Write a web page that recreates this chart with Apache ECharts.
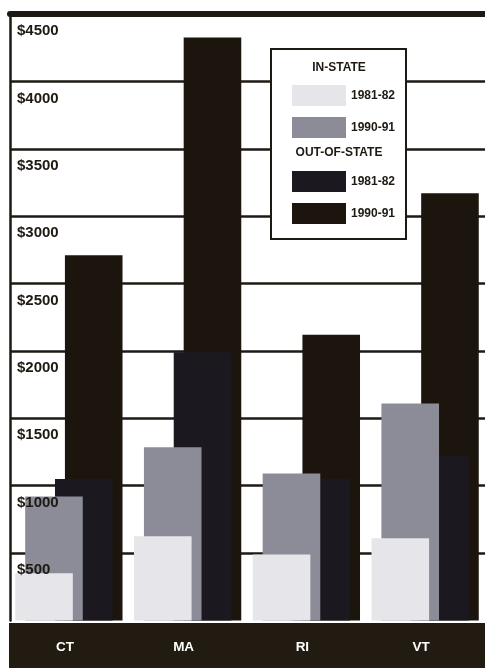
<!DOCTYPE html>
<html>
<head>
<meta charset="utf-8">
<script src="https://cdn.jsdelivr.net/npm/echarts@6/dist/echarts.min.js"></script>
<style>
  html, body { margin: 0; padding: 0; background: #ffffff; }
  #chart { width: 485px; height: 668px; }
</style>
</head>
<body>
<div id="chart"></div>
<script>
// Average tuition at New England public universities, by state
const categories = ['CT', 'MA', 'RI', 'VT'];
const inState8182 = [350, 625, 490, 610];
const inState9091 = [920, 1285, 1090, 1610];
const outState8182 = [1050, 1990, 1050, 1225];
const outState9091 = [2710, 4325, 2120, 3170];
const yTicks = [0, 500, 1000, 1500, 2000, 2500, 3000, 3500, 4000, 4500];

const INK = '#1e1912';
const FONT = '"Liberation Sans", Arial, sans-serif';
const COLORS = {
  in8182: '#e6e5e9',
  in9091: '#8b8c98',
  out8182: '#1c1820',
  out9091: '#1c150e'
};

// Overlapping bars: each series is shifted inside its category band
const BAR_RATIO = 0.485;
function barRenderer(offset) {
  return function (params, api) {
    const base = api.coord([api.value(0), 0]);
    const top = api.coord([api.value(0), api.value(1)]);
    const band = api.size([1, 0])[0];
    const w = band * BAR_RATIO;
    return {
      type: 'rect',
      shape: { x: base[0] + band * offset - w / 2, y: top[1], width: w, height: base[1] - top[1] },
      style: api.style()
    };
  };
}
function toPairs(values) { return values.map((v, i) => [i, v]); }

function barSeries(name, values, color, offset) {
  return {
    name: name,
    type: 'custom',
    renderItem: barRenderer(offset),
    itemStyle: { color: color },
    encode: { x: 0, y: 1 },
    data: toPairs(values),
    silent: true
  };
}

const chart = echarts.init(document.getElementById('chart'), null, { renderer: 'canvas' });

const legendText = {
  fontFamily: FONT, fontWeight: 'bold', fontSize: 12, color: INK, padding: [7, 0, 0, 0]
};

chart.setOption({
  backgroundColor: '#ffffff',
  animation: false,
  grid: { left: 10, top: 14, width: 478, bottom: 47.5, containLabel: false },
  xAxis: [
    {
      type: 'category',
      data: categories,
      position: 'bottom',
      z: 6,
      axisLine: { show: false },
      axisTick: { show: false },
      splitLine: { show: false },
      axisLabel: {
        color: '#ffffff', fontFamily: FONT, fontWeight: 'bold', fontSize: 13.5,
        margin: 20, padding: [0, 9, 0, 0]
      }
    },
    {
      // heavy top frame of the plot
      type: 'category',
      data: categories,
      position: 'top',
      axisLine: { show: true, onZero: false, lineStyle: { color: INK, width: 6 } },
      axisTick: { show: false },
      axisLabel: { show: false },
      splitLine: { show: false }
    }
  ],
  yAxis: [
    {
      type: 'value',
      position: 'left',
      min: yTicks[0],
      max: yTicks[yTicks.length - 1],
      interval: 500,
      axisLine: { show: true, lineStyle: { color: INK, width: 2.5 } },
      axisTick: { show: false },
      axisLabel: { show: false },
      splitLine: { show: true, showMinLine: false, showMaxLine: false, lineStyle: { color: INK, width: 2.5 } }
    },
    {
      type: 'value',
      position: 'left',
      min: yTicks[0],
      max: yTicks[yTicks.length - 1],
      interval: 500,
      z: 10,
      axisLine: { show: false },
      axisTick: { show: false },
      splitLine: { show: false },
      axisLabel: {
        inside: true,
        margin: 7,
        color: INK,
        fontFamily: FONT,
        fontWeight: 'bold',
        fontSize: 15,
        verticalAlign: 'top',
        lineHeight: 16,
        padding: [9, 0, 0, 0],
        formatter: v => (v === 0 ? '' : '$' + v)
      }
    }
  ],
  legend: [
    {
      data: ['IN-STATE 1981-82', 'IN-STATE 1990-91'],
      orient: 'vertical', left: 287, top: 80,
      itemWidth: 54, itemHeight: 21, itemGap: 11,
      icon: 'rect', selectedMode: false,
      formatter: n => n.split(' ').pop(),
      textStyle: legendText
    },
    {
      data: ['OUT-OF-STATE 1981-82', 'OUT-OF-STATE 1990-91'],
      orient: 'vertical', left: 287, top: 166,
      itemWidth: 54, itemHeight: 21, itemGap: 11,
      icon: 'rect', selectedMode: false,
      formatter: n => n.split(' ').pop(),
      textStyle: legendText
    }
  ],
  graphic: [
    {
      type: 'rect', z: 1, silent: true,
      shape: { x: 9, y: 623, width: 480, height: 50 },
      style: { fill: '#221b11' }
    },
    {
      type: 'rect', z: 3, silent: true,
      shape: { x: 271, y: 49, width: 135, height: 190 },
      style: { fill: '#ffffff', stroke: INK, lineWidth: 2 }
    },
    {
      type: 'text', z: 5, silent: true, x: 339, y: 68,
      style: { text: 'IN-STATE', fill: INK, font: 'bold 12px ' + FONT, align: 'center', verticalAlign: 'middle' }
    },
    {
      type: 'text', z: 5, silent: true, x: 339, y: 153,
      style: { text: 'OUT-OF-STATE', fill: INK, font: 'bold 12px ' + FONT, align: 'center', verticalAlign: 'middle' }
    }
  ],
  // drawn back to front
  series: [
    barSeries('OUT-OF-STATE 1990-91', outState9091, COLORS.out9091, 0.205),
    barSeries('OUT-OF-STATE 1981-82', outState8182, COLORS.out8182, 0.1213),
    barSeries('IN-STATE 1990-91', inState9091, COLORS.in9091, -0.1297),
    barSeries('IN-STATE 1981-82', inState8182, COLORS.in8182, -0.2134)
  ]
});
</script>
</body>
</html>
